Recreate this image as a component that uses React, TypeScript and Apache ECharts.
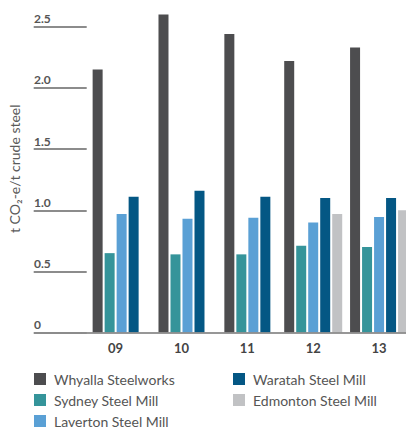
import React, { useEffect, useRef } from "react";
import * as echarts from "echarts";

const years = ["09", "10", "11", "12", "13"];
const whyalla = [2.15, 2.6, 2.44, 2.22, 2.33];
const sydney = [0.65, 0.64, 0.64, 0.71, 0.7];
const laverton = [0.97, 0.93, 0.94, 0.9, 0.945];
const waratah = [1.11, 1.16, 1.11, 1.1, 1.1];
const edmonton: (number | null)[] = [null, null, null, 0.97, 1.0];
const yTicks = [0, 0.5, 1.0, 1.5, 2.0, 2.5];

const seriesDefs = [
  { name: "Whyalla Steelworks", values: whyalla, color: "#4d4d4f" },
  { name: "Sydney Steel Mill", values: sydney, color: "#35949a" },
  { name: "Laverton Steel Mill", values: laverton, color: "#5aa0d5" },
  { name: "Waratah Steel Mill", values: waratah, color: "#045784" },
  { name: "Edmonton Steel Mill", values: edmonton, color: "#c1c2c4" },
];

const FONT = "Lato";
const BAR_W = 10;
const PITCH = 12;

export default function App() {
  const ref = useRef<HTMLDivElement>(null);
  useEffect(() => {
    if (!ref.current) return;
    const chart = echarts.init(ref.current, null, { renderer: "svg" });
    const series = seriesDefs.map((s, si) => ({
      type: "custom",
      name: s.name,
      itemStyle: { color: s.color },
      encode: { x: 0, y: 1 },
      data: years
        .map((_, i) => [i, s.values[i]])
        .filter((d) => d[1] !== null && d[1] !== undefined),
      renderItem: (params: any, api: any) => {
        const yi = api.value(0);
        const v = api.value(1);
        const present = seriesDefs
          .map((d, idx) => ({ idx, v: d.values[yi] }))
          .filter((d) => d.v !== null && d.v !== undefined);
        const n = present.length;
        const k = present.findIndex((d) => d.idx === si);
        const base = api.coord([yi, 0]);
        const top = api.coord([yi, v]);
        const groupW = n * PITCH - (PITCH - BAR_W);
        const left = base[0] - groupW / 2 + k * PITCH;
        return {
          type: "rect",
          shape: { x: left, y: top[1], width: BAR_W, height: base[1] - top[1] },
          style: { fill: s.color },
        };
      },
    }));
    const legendText = {
      fontFamily: FONT,
      fontSize: 14,
      color: "#555",
      lineHeight: 16,
      padding: [0, 0, 0, 3],
    };
    chart.setOption({
      animation: false,
      textStyle: { fontFamily: FONT },
      grid: {
        left: 82.7,
        right: 0,
        top: 26.7,
        bottom: 99.3,
        containLabel: false,
        outerBoundsMode: "none",
      },
      xAxis: {
        type: "category",
        data: years,
        axisLine: { show: true, lineStyle: { color: "#8c8c8c", width: 2, opacity: 0.9 } },
        axisTick: { show: false },
        axisLabel: {
          margin: 9,
          fontFamily: FONT,
          fontWeight: "bold",
          fontSize: 13,
          color: "#444",
        },
        z: 5,
      },
      yAxis: {
        type: "value",
        min: 0,
        max: 2.5,
        interval: 0.5,
        offset: -4,
        name: "t CO₂-e/t crude steel",
        nameLocation: "middle",
        nameRotate: 90,
        nameGap: 65,
        nameTextStyle: {
          fontFamily: FONT,
          fontSize: 14,
          color: "#5a5a5a",
          padding: [0, 0, 0, 22],
        },
        axisLine: { show: true, lineStyle: { color: "rgba(0,0,0,0)", width: 0 } },
        axisTick: {
          show: true,
          inside: false,
          length: 53,
          lineStyle: { color: "#666", width: 1.5 },
        },
        splitLine: { show: false },
        axisLabel: {
          align: "left",
          verticalAlign: "bottom",
          margin: 52.7,
          padding: [0, 0, 2, 0],
          fontFamily: FONT,
          fontWeight: "bold",
          fontSize: 12,
          color: "#555",
          formatter: (v: number) => {
            const t = yTicks.find((x) => Math.abs(x - v) < 1e-9);
            if (t === undefined) return "";
            return t === 0 ? "0" : t.toFixed(1);
          },
        },
      },
      legend: [
        {
          left: 34,
          top: 371,
          padding: 0,
          orient: "vertical",
          data: [seriesDefs[0].name, seriesDefs[1].name, seriesDefs[2].name],
          itemWidth: 12,
          itemHeight: 12,
          itemGap: 5,
          icon: "rect",
          selectedMode: false,
          textStyle: legendText,
        },
        {
          left: 233,
          top: 371,
          padding: 0,
          orient: "vertical",
          data: [seriesDefs[3].name, seriesDefs[4].name],
          itemWidth: 12,
          itemHeight: 12,
          itemGap: 5,
          icon: "rect",
          selectedMode: false,
          textStyle: legendText,
        },
      ],
      series,
    });
    return () => chart.dispose();
  }, []);
  return (
    <div
      ref={ref}
      style={{ position: "fixed", left: 0, top: 0, width: 412.3, height: 432, background: "#fff" }}
    />
  );
}
